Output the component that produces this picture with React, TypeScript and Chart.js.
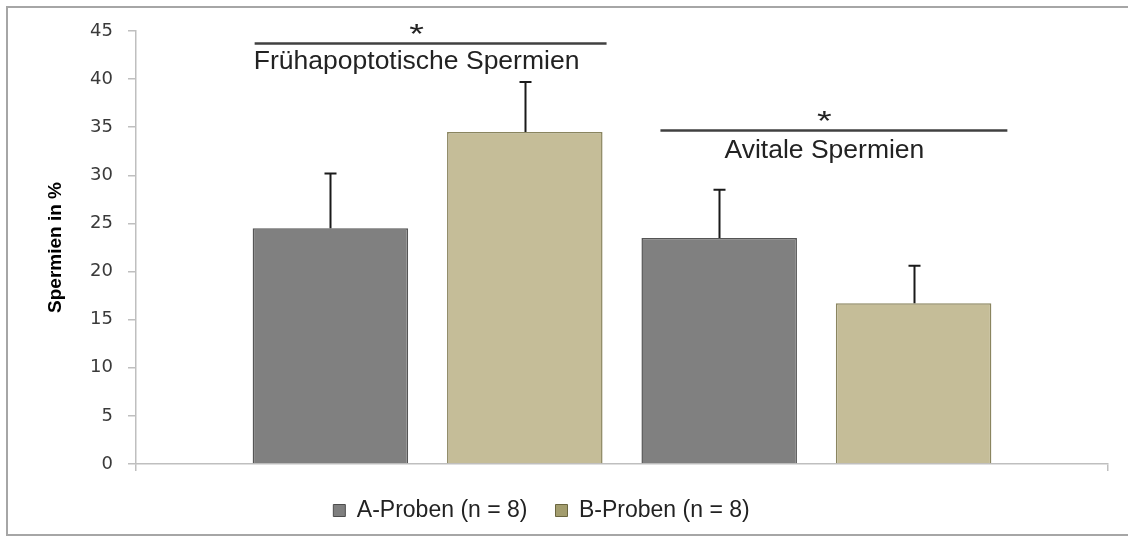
import React, { useEffect, useRef } from "react";
import { Chart, registerables } from "chart.js";

Chart.register(...registerables);

// ---- data ----
const groups = ["Frühapoptotische Spermien", "Avitale Spermien"];
const seriesNames = ["A-Proben (n = 8)", "B-Proben (n = 8)"];
const aMeans = [24.5, 23.5];
const bMeans = [34.5, 16.7];
const aErr = [5.7, 5.0];
const bErr = [5.2, 3.9];
const yTicks = [0, 5, 10, 15, 20, 25, 30, 35, 40, 45];
const yTitle = "Spermien in %";
// significance brackets (y in data units)
const bracketLineY = [43.75, 34.7];
const bracketStarY = [45.2, 36.15];
const bracketTextY = [41.8, 32.6];

const FONT = "'Liberation Sans', Arial, sans-serif";
const colA = "#808080";
const colAB = "#555555";
const colB = "#c5bd98";
const colBB = "#8a855f";

const errorBarPlugin = {
  id: "errorBars",
  afterDatasetsDraw(chart: any) {
    const ctx = chart.ctx;
    const y = chart.scales.y;
    ctx.save();
    ctx.strokeStyle = "#1a1a1a";
    ctx.lineWidth = 2;
    chart.data.datasets.forEach((ds: any, i: number) => {
      const meta = chart.getDatasetMeta(i);
      const bar = meta.data[0];
      if (!bar) return;
      const top = y.getPixelForValue(ds.data[0] + ds.err);
      const x = Math.round(bar.x) + 0.5;
      ctx.beginPath();
      ctx.moveTo(x, bar.y);
      ctx.lineTo(x, top);
      ctx.moveTo(x - 6, top);
      ctx.lineTo(x + 6, top);
      ctx.stroke();
    });
    ctx.restore();
  },
};

const bracketPlugin = {
  id: "brackets",
  afterDraw(chart: any) {
    const ctx = chart.ctx;
    const y = chart.scales.y;
    const offs = [
      { l: 2, r: 4, t: -11 },
      { l: 19, r: 16, t: 8 },
    ];
    groups.forEach((g, gi) => {
      const b0 = chart.getDatasetMeta(gi * 2).data[0];
      const b1 = chart.getDatasetMeta(gi * 2 + 1).data[0];
      if (!b0 || !b1) return;
      const left = b0.x - b0.width / 2 + offs[gi].l;
      const right = b1.x + b1.width / 2 + offs[gi].r;
      const mid = (b0.x + b1.x) / 2 + offs[gi].t;
      const ly = Math.round(y.getPixelForValue(bracketLineY[gi])) + 0.5;
      ctx.save();
      ctx.strokeStyle = "#404040";
      ctx.lineWidth = 2.5;
      ctx.beginPath();
      ctx.moveTo(left, ly);
      ctx.lineTo(right, ly);
      ctx.stroke();
      ctx.fillStyle = "#222";
      ctx.textAlign = "center";
      ctx.textBaseline = "middle";
      // star (slightly widened like the reference)
      ctx.save();
      ctx.translate(mid, y.getPixelForValue(bracketStarY[gi]) + 6);
      ctx.scale(1.35, 1);
      ctx.font = `28px ${FONT}`;
      ctx.fillText("*", 0, 0);
      ctx.restore();
      ctx.font = `26.5px ${FONT}`;
      ctx.fillText(g, mid, y.getPixelForValue(bracketTextY[gi]));
      ctx.restore();
    });
  },
};

const framePlugin = {
  id: "frame",
  beforeDraw(chart: any) {
    const ctx = chart.ctx;
    ctx.save();
    ctx.fillStyle = "#fff";
    ctx.fillRect(0, 0, chart.width, chart.height);
    ctx.strokeStyle = "#a6a6a6";
    ctx.lineWidth = 2;
    ctx.beginPath();
    ctx.moveTo(1128, 7);
    ctx.lineTo(7, 7);
    ctx.lineTo(7, 535);
    ctx.lineTo(1128, 535);
    ctx.stroke();
    ctx.restore();
  },
};

const legendShiftPlugin = {
  id: "legendShift",
  afterLayout(chart: any) {
    if (chart.legend) {
      chart.legend.left = 0;
      chart.legend.right = 1083;
    }
  },
};

export default function App() {
  const ref = useRef<HTMLCanvasElement>(null);
  useEffect(() => {
    if (!ref.current) return;
    const datasets: any[] = [];
    groups.forEach((g, gi) => {
      datasets.push({
        label: seriesNames[0],
        data: [aMeans[gi]],
        err: aErr[gi],
        backgroundColor: colA,
        borderColor: colAB,
        borderWidth: 1.5,
        barPercentage: 0.8,
        categoryPercentage: 0.8,
      });
      datasets.push({
        label: seriesNames[1],
        data: [bMeans[gi]],
        err: bErr[gi],
        backgroundColor: colB,
        borderColor: colBB,
        borderWidth: 1.5,
        barPercentage: 0.8,
        categoryPercentage: 0.8,
      });
    });
    const chart = new Chart(ref.current, {
      type: "bar",
      data: { labels: [""], datasets },
      plugins: [framePlugin, errorBarPlugin, bracketPlugin, legendShiftPlugin],
      options: {
        animation: false,
        responsive: false,
        layout: { padding: { left: 0, right: 20, top: 31, bottom: 4 } },
        plugins: {
          tooltip: { enabled: false },
          legend: {
            position: "bottom",
            labels: {
              font: { family: FONT, size: 23 },
              color: "#222",
              boxWidth: 12,
              boxHeight: 12,
              padding: 28,
              generateLabels: () =>
                [0, 1].map((i) => ({
                  text: seriesNames[i],
                  fillStyle: i === 0 ? "#7f7f7f" : "#a39d6e",
                  strokeStyle: i === 0 ? "#4d4d4d" : "#6b6640",
                  lineWidth: 1,
                  datasetIndex: i,
                  hidden: false,
                  fontColor: "#222",
                })),
            },
          },
        },
        scales: {
          x: {
            type: "category",
            offset: true,
            grid: {
              offset: true,
              drawOnChartArea: false,
              tickLength: 7,
              color: "#bfbfbf",
              lineWidth: 1.5,
            },
            border: { color: "#bfbfbf", width: 1.5 },
            ticks: { display: false },
            afterFit: (s: any) => {
              s.height = 7;
            },
          },
          y: {
            min: 0,
            max: 45,
            afterBuildTicks: (s: any) => {
              s.ticks = yTicks.map((v) => ({ value: v }));
            },
            grid: {
              drawOnChartArea: false,
              tickLength: 8,
              color: "#bfbfbf",
              lineWidth: 1.5,
            },
            border: { color: "#bfbfbf", width: 1.5 },
            ticks: {
              padding: 15,
              color: "#3a3a3a",
              font: { family: "'DejaVu Sans', sans-serif", size: 18 },
            },
            title: {
              display: true,
              text: yTitle,
              color: "#000",
              font: { family: FONT, size: 19, weight: "bold" },
              padding: { top: 44, bottom: 0 },
            },
            afterFit: (s: any) => {
              s.width = 136;
            },
          },
        },
      },
    });
    return () => chart.destroy();
  }, []);
  return (
    <div style={{ position: "absolute", left: 0, top: 0, width: 1128, height: 536 }}>
      <canvas ref={ref} width={1128} height={536} style={{ display: "block" }} />
    </div>
  );
}
